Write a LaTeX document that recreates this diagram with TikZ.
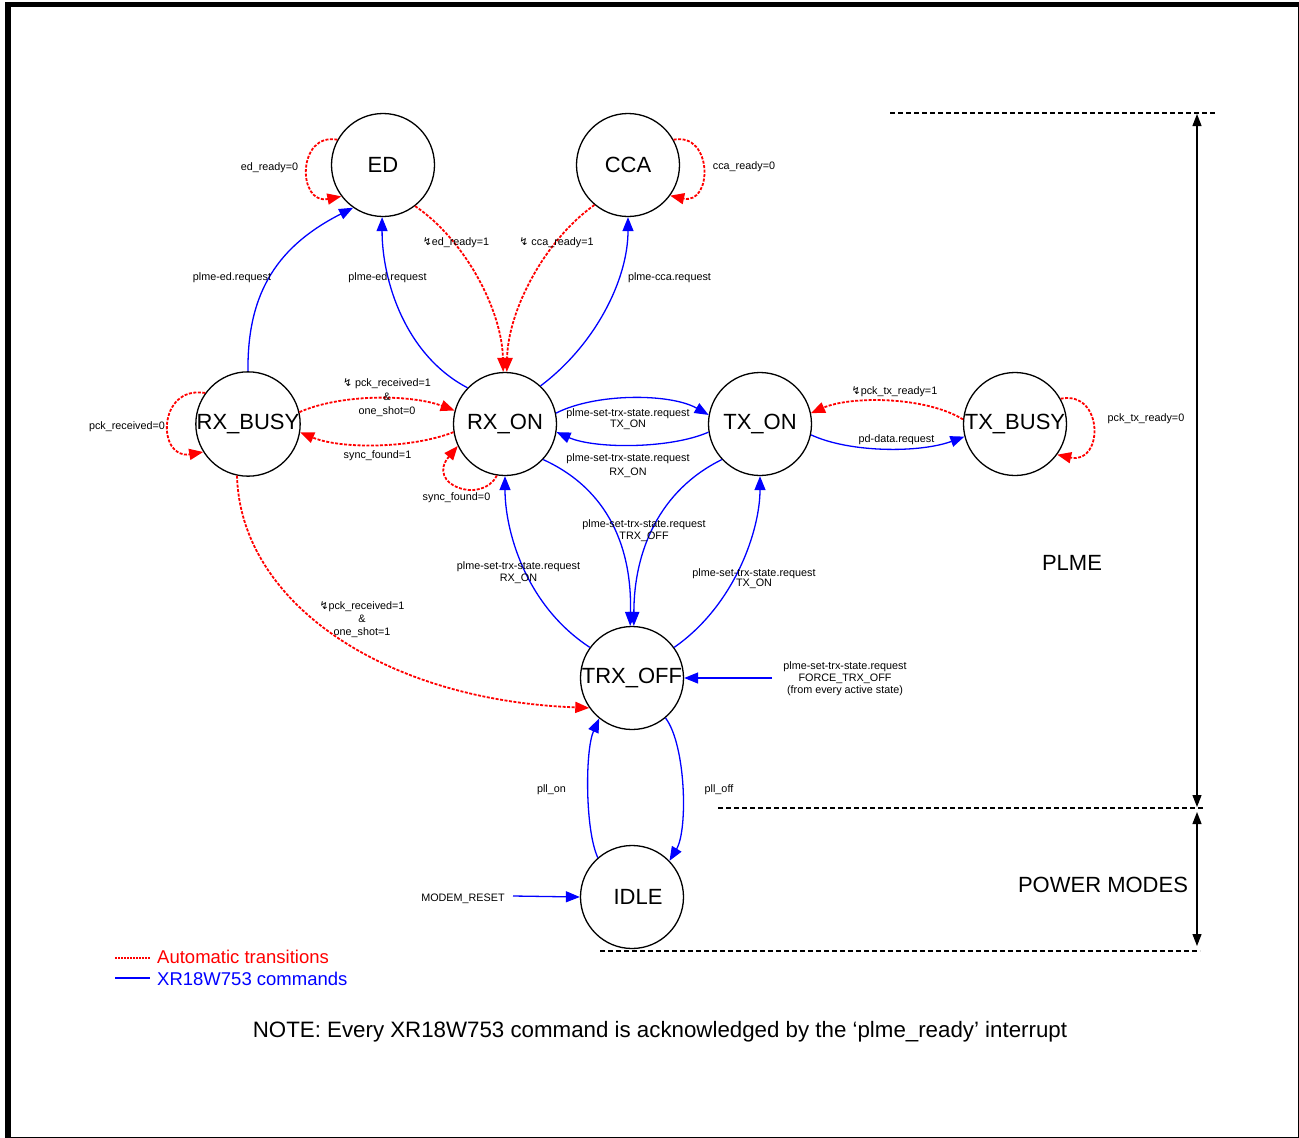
\documentclass[tikz,border=0pt]{standalone}
\usepackage{fontspec}
\setmainfont{Liberation Sans}
\newfontfamily\dejavu{DejaVu Sans}
\usetikzlibrary{arrows.meta}
\newcommand{\zzg}{{\dejavu ↯}}
\begin{document}
\begin{tikzpicture}[x=1pt,y=1pt,
  state/.style={circle,draw=black,line width=1.3pt,minimum size=103pt,inner sep=0pt,font=\fontsize{22}{24}\selectfont},
  lbl/.style={align=center,inner sep=0pt,yshift=-1.5pt,font=\fontsize{10.8}{12.5}\selectfont},
  lblwide/.style={align=center,inner sep=0pt,yshift=-1.5pt,font=\fontsize{10.8}{14}\selectfont},
  tip/.style={-{Triangle[length=14pt,width=11pt]}},
  autoedge/.style={draw=red,line width=1.8pt,dash pattern=on 3pt off 1.5pt,tip},
  cmdedge/.style={draw=blue,line width=1.3pt,tip},
  dashline/.style={draw=black,line width=1.1pt,dash pattern=on 5pt off 3pt},
  dimarrow/.style={draw=black,line width=1.2pt,{Triangle[length=12pt,width=9pt]}-{Triangle[length=12pt,width=9pt]}},
  big/.style={inner sep=0pt,yshift=-1pt,font=\fontsize{22}{24}\selectfont},
]
\useasboundingbox (0,0) rectangle (1299,-1138);
\fill[white] (0,0) rectangle (1299,-1138);
\draw[line width=5.5pt] (8,-4.5) rectangle (1301,-1140);

% states
\node[state] (ED) at (383,-165) {ED};
\node[state] (CCA) at (628,-165) {CCA};
\node[state] (RXBUSY) at (248,-424) {RX\_BUSY};
\node[state] (RXON) at (505,-424) {RX\_ON};
\node[state] (TXON) at (760,-424) {TX\_ON};
\node[state] (TXBUSY) at (1015,-424) {TX\_BUSY};
\node[state] (TRXOFF) at (632,-678) {TRX\_OFF};
\node[state] (IDLE) at (632,-897) {\hspace*{12pt}IDLE};

% self loops
\draw[autoedge] (ED.151) .. controls (297,-132) and (297,-205) .. (ED.217);
\draw[autoedge] (CCA.29) .. controls (713,-132) and (713,-205) .. (CCA.324);
\draw[autoedge] (RXBUSY.144) .. controls (157,-385) and (157,-460) .. (RXBUSY.212);
\draw[autoedge] (TXBUSY.29) .. controls (1104,-390) and (1104,-465) .. (TXBUSY.324);
\draw[autoedge] (RXON.261) .. controls (482,-505) and (425,-485) .. (RXON.205);

% RX_BUSY <-> RX_ON
\draw[autoedge] (RXBUSY.13) .. controls (340,-394) and (410,-394) .. (RXON.165);
\draw[autoedge] (RXON.189) .. controls (410,-449) and (340,-449) .. (RXBUSY.351);

% to ED / CCA
\draw[cmdedge] (RXON.136) .. controls (405,-355) and (382,-280) .. (ED.269);
\draw[cmdedge] (RXBUSY.90) .. controls (247,-290) and (280,-245) .. (ED.235);
\draw[autoedge] (ED.308) .. controls (465,-240) and (502,-310) .. (RXON.92);
\draw[autoedge] (CCA.230) .. controls (545,-240) and (508,-310) .. (RXON.88);
\draw[cmdedge] (RXON.47) .. controls (595,-345) and (628,-280) .. (CCA.270);

% RX_ON <-> TX_ON
\draw[cmdedge] (RXON.12) .. controls (595,-393) and (670,-393) .. (TXON.170);
\draw[cmdedge] (TXON.189) .. controls (670,-449) and (595,-449) .. (RXON.351);

% TX_ON <-> TX_BUSY
\draw[autoedge] (TXBUSY.175) .. controls (925,-396) and (850,-396) .. (TXON.12);
\draw[cmdedge] (TXON.348) .. controls (850,-453) and (920,-453) .. (TXBUSY.194);

% to / from TRX_OFF
\draw[cmdedge] (RXON.317) .. controls (610,-490) and (632,-550) .. (TRXOFF.92);
\draw[cmdedge] (TXON.223) .. controls (660,-490) and (634,-550) .. (TRXOFF.88);
\draw[cmdedge] (TRXOFF.144) .. controls (525,-605) and (505,-530) .. (RXON.270);
\draw[cmdedge] (TRXOFF.36) .. controls (735,-605) and (760,-530) .. (TXON.270);
\draw[autoedge] (RXBUSY.258) .. controls (240,-600) and (380,-700) .. (TRXOFF.215);
\coordinate (forcein) at (772,-678);
\draw[cmdedge] (forcein) -- (TRXOFF.0);

% TRX_OFF <-> IDLE
\draw[cmdedge] (TRXOFF.310) .. controls (686,-745) and (688,-830) .. (IDLE.44);
\draw[cmdedge] (IDLE.131) .. controls (585,-830) and (585,-750) .. (TRXOFF.231);
\coordinate (resetin) at (513,-896);
\draw[cmdedge] (resetin) -- (IDLE.180);

% labels
\node[lbl] (l1) at (269.5,-166) {ed\_ready=0};
\node[lbl] (l2) at (744,-165) {cca\_ready=0};
\node[lbl] (l3) at (127,-425) {pck\_received=0};
\node[lbl] (l4) at (1146,-417) {pck\_tx\_ready=0};
\node[lbl] (l5) at (456.5,-496) {sync\_found=0};
\node[lblwide] (l6) at (387,-396) {\zzg{} pck\_received=1\\\&\\one\_shot=0};
\node[lbl] (l7) at (377.5,-454) {sync\_found=1};
\node[lbl] (l8) at (232,-276) {plme-ed.request};
\node[lbl] (l9) at (387.5,-276) {plme-ed.request};
\node[lbl] (l10) at (456,-241) {\zzg ed\_ready=1};
\node[lbl] (l11) at (556.5,-241) {\zzg{} cca\_ready=1};
\node[lbl] (l12) at (669.5,-276) {plme-cca.request};
\node[lbl,font=\fontsize{10.8}{11}\selectfont] (l13) at (628,-418) {plme-set-trx-state.request\\TX\_ON};
\node[lblwide] (l14) at (628,-464) {plme-set-trx-state.request\\RX\_ON};
\node[lbl] (l15) at (894.5,-390) {\zzg pck\_tx\_ready=1};
\node[lbl] (l16) at (896.5,-438) {pd-data.request};
\node[lbl,font=\fontsize{10.8}{12.5}\selectfont] (l17) at (644,-529) {plme-set-trx-state.request\\TRX\_OFF};
\node[lbl,font=\fontsize{10.8}{12}\selectfont] (l18) at (518.5,-571) {plme-set-trx-state.request\\RX\_ON};
\node[lbl,font=\fontsize{10.8}{10.5}\selectfont] (l19) at (754,-577) {plme-set-trx-state.request\\TX\_ON};
\node[lbl,font=\fontsize{10.8}{13}\selectfont] (l20) at (362,-618) {\zzg pck\_received=1\\\&\\one\_shot=1};
\node[lbl,font=\fontsize{10.8}{12}\selectfont] (l21) at (845,-677) {plme-set-trx-state.request\\FORCE\_TRX\_OFF\\(from every active state)};
\node[lbl] (l22) at (551.5,-788) {pll\_on};
\node[lbl] (l23) at (719,-788) {pll\_off};
\node[lbl] (l24) at (463,-897) {MODEM\_RESET};

% power-mode scale
\coordinate (d1a) at (890,-113);
\coordinate (d1b) at (1217,-113);
\coordinate (d2a) at (718,-808);
\coordinate (d2b) at (1203,-808);
\coordinate (d3a) at (600,-951);
\coordinate (d3b) at (1200,-951);
\draw[dashline] (d1a) -- (d1b);
\draw[dashline] (d2a) -- (d2b);
\draw[dashline] (d3a) -- (d3b);
\coordinate (v1) at (1197,-114);
\coordinate (v2) at (1197,-807);
\coordinate (v3) at (1197,-812);
\coordinate (v4) at (1197,-946);
\draw[dimarrow] (v1) -- (v2);
\draw[dimarrow] (v3) -- (v4);
\node[big] (plme) at (1072,-562) {PLME};
\node[big] (pm) at (1103,-884) {POWER MODES};

% legend
\coordinate (la1) at (115,-958);
\coordinate (la2) at (150,-958);
\coordinate (lb1) at (115,-978);
\coordinate (lb2) at (150,-978);
\draw[red,line width=1.6pt,dash pattern=on 2pt off 1pt] (la1) -- (la2);
\draw[blue,line width=1.2pt] (lb1) -- (lb2);
\node[anchor=west,inner sep=0pt,text=red,font=\fontsize{18.5}{20}\selectfont] (leg1) at (157,-957) {Automatic transitions};
\node[anchor=west,inner sep=0pt,text=blue,font=\fontsize{18.5}{20}\selectfont] (leg2) at (157,-979) {XR18W753 commands};
\node[inner sep=0pt,font=\fontsize{22.3}{24}\selectfont] (note) at (660,-1032) {NOTE: Every XR18W753 command is acknowledged by the ‘plme\_ready’ interrupt};
\end{tikzpicture}
\end{document}
